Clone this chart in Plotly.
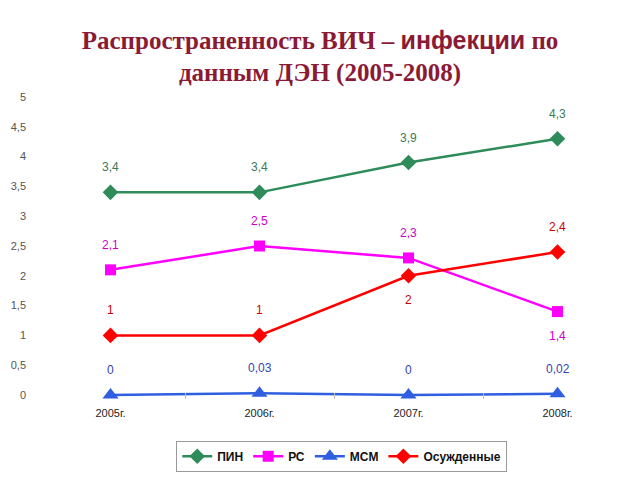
import plotly.graph_objects as go

years = ["2005г.", "2006г.", "2007г.", "2008г."]
pin = [3.4, 3.4, 3.9, 4.3]
rs = [2.1, 2.5, 2.3, 1.4]
msm = [0, 0.03, 0, 0.02]
osu = [1, 1, 2, 2.4]

y_ticks = [0, 0.5, 1, 1.5, 2, 2.5, 3, 3.5, 4, 4.5, 5]
y_tick_text = ["0", "0,5", "1", "1,5", "2", "2,5", "3", "3,5", "4", "4,5", "5"]

pin_lbl = ["3,4", "3,4", "3,9", "4,3"]
rs_lbl = ["2,1", "2,5", "2,3", "1,4"]
msm_lbl = ["0", "0,03", "0", "0,02"]
osu_lbl = ["1", "1", "2", "2,4"]

# label placement: +1 above, -1 below
pin_pos = [1, 1, 1, 1]
rs_pos = [1, 1, 1, -1]
msm_pos = [1, 1, 1, 1]
osu_pos = [1, 1, -1, 1]

series = [
    ("ПИН", pin, pin_lbl, pin_pos, "#2E8B5A", "#3A7A5A", "diamond", 12),
    ("РС", rs, rs_lbl, rs_pos, "#FF00FF", "#CC00CC", "square", 11),
    ("МСМ", msm, msm_lbl, msm_pos, "#2F5FE0", "#3344AA", "triangle-up", 14),
    ("Осужденные", osu, osu_lbl, osu_pos, "#FF0000", "#CC0000", "diamond", 12),
]

fig = go.Figure()
annotations = []
for name, vals, lbls, pos, col, tcol, sym, ms in series:
    fig.add_trace(go.Scatter(
        x=years, y=vals, name=name, mode="lines+markers",
        line=dict(color=col, width=2.5),
        marker=dict(symbol=sym, size=ms, color=col),
        cliponaxis=False,
    ))
    for xv, yv, lb, p in zip(years, vals, lbls, pos):
        annotations.append(dict(
            x=xv, y=yv, text=lb, showarrow=False,
            yshift=25 if p > 0 else -24,
            font=dict(family="Liberation Sans, Arial", size=12, color=tcol),
        ))

fig.update_layout(
    width=640, height=480,
    margin=dict(l=36, r=8, t=97, b=79),
    paper_bgcolor="white", plot_bgcolor="white",
    title=dict(
        text="Распространенность ВИЧ – <span style='font-family:Liberation Sans'>инфекции</span> по<br>данным ДЭН (2005-2008)",
        x=0.5, xref="container", xanchor="center",
        y=0.898, yanchor="middle",
        font=dict(family="Liberation Serif, Times New Roman", size=25, color="#8B1A35", weight="bold"),
    ),
    showlegend=True,
    legend=dict(
        orientation="h", x=0.513, xanchor="center", y=-0.138, yanchor="top",
        bordercolor="#999999", borderwidth=1,
        font=dict(family="Liberation Sans, Arial", size=12, color="#111111", weight="bold"),
        itemwidth=30,
    ),
    annotations=annotations,
)
fig.update_xaxes(
    type="category", range=[-0.5, 3.5], tickson="boundaries", ticks="inside", ticklen=6,
    tickcolor="#BBBBBB", showgrid=False, showline=False, zeroline=False,
    ticklabelstandoff=6,
    tickfont=dict(family="Liberation Sans, Arial", size=11, color="#222222"),
)
fig.update_yaxes(
    range=[-0.0667, 5], tickvals=y_ticks, ticktext=y_tick_text,
    showgrid=False, showline=False, zeroline=False,
    ticks="", ticklabelstandoff=9,
    tickfont=dict(family="Liberation Sans, Arial", size=11, color="#555555"),
)

fig.write_html("out.html")
